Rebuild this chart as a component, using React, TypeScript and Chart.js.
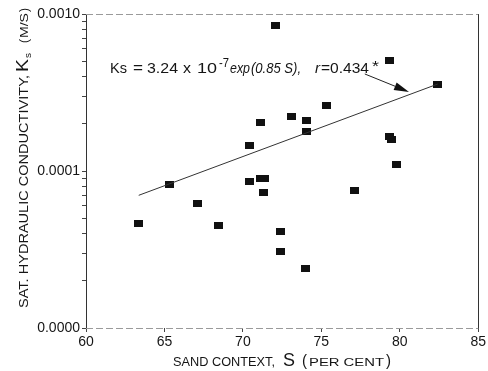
import React, { useEffect, useRef } from 'react';
import { Chart, registerables } from 'chart.js';

Chart.register(...registerables);

// ---- data ----
const sandContent = [63.36, 65.35, 67.13, 68.44, 70.41, 70.41, 71.1, 71.35, 71.29, 71.12, 72.06, 72.39, 72.37, 73.09, 74.06, 74.04, 74.02, 75.36, 77.13, 79.33, 79.33, 79.46, 79.8, 82.42];
const conductivity = [4.64e-5, 8.26e-5, 6.22e-5, 4.47e-5, 1.45e-4, 8.63e-5, 9.0e-5, 9.0e-5, 7.31e-5, 2.05e-4, 8.51e-4, 4.13e-5, 3.05e-5, 2.22e-4, 2.1e-4, 1.78e-4, 2.38e-5, 2.6e-4, 7.47e-5, 5.07e-4, 1.66e-4, 1.59e-4, 1.1e-4, 3.58e-4];
const fitSand = [63.36, 82.42];
const fitKs = [7.0e-5, 3.58e-4];
const arrowSand = [77.77, 80.59];
const arrowKs = [4.15e-4, 3.19e-4];
const xMin = 60;
const xMax = 85;
const xStep = 5;
const yMajorTicks = [1e-5, 1e-4, 1e-3];
const yMajorLabels = ['0.0000', '0.0001', '0.0010'];
const minorMultipliers = [1, 2, 3, 4, 5, 6, 7, 8, 9];

const FONT = "'Liberation Sans', Arial, Helvetica, sans-serif";
const INK = '#151515';

function drawFit(ctx: CanvasRenderingContext2D, text: string, x: number, y: number, font: string, width?: number) {
  ctx.font = font;
  if (width) {
    const w = ctx.measureText(text).width || 1;
    ctx.save();
    ctx.translate(x, y);
    ctx.scale(width / w, 1);
    ctx.fillText(text, 0, 0);
    ctx.restore();
  } else {
    ctx.fillText(text, x, y);
  }
}

const decorPlugin = {
  id: 'decor',
  afterDraw(chart: any) {
    const { ctx, chartArea: ca, scales } = chart;
    const xs = scales.x;
    const ys = scales.y;
    ctx.save();
    // frame
    ctx.lineWidth = 1;
    ctx.strokeStyle = '#333';
    ctx.beginPath();
    ctx.moveTo(Math.round(ca.left) + 0.5, ca.top);
    ctx.lineTo(Math.round(ca.left) + 0.5, ca.bottom);
    ctx.moveTo(Math.round(ca.right) + 0.5, ca.top);
    ctx.lineTo(Math.round(ca.right) + 0.5, ca.bottom);
    ctx.stroke();
    ctx.strokeStyle = '#9a9a9a';
    ctx.setLineDash([7, 3]);
    ctx.beginPath();
    ctx.moveTo(ca.left, Math.round(ca.top) + 0.5);
    ctx.lineTo(ca.right, Math.round(ca.top) + 0.5);
    ctx.moveTo(ca.left, Math.round(ca.bottom) + 0.5);
    ctx.lineTo(ca.right, Math.round(ca.bottom) + 0.5);
    ctx.stroke();
    ctx.setLineDash([]);

    // arrow
    const ax0 = xs.getPixelForValue(arrowSand[0]);
    const ay0 = ys.getPixelForValue(arrowKs[0]);
    const ax1 = xs.getPixelForValue(arrowSand[1]);
    const ay1 = ys.getPixelForValue(arrowKs[1]);
    const ang = Math.atan2(ay1 - ay0, ax1 - ax0);
    const hl = 15;
    const hw = 4;
    const bx = ax1 - hl * Math.cos(ang);
    const by = ay1 - hl * Math.sin(ang);
    ctx.strokeStyle = '#222';
    ctx.lineWidth = 1;
    ctx.beginPath();
    ctx.moveTo(ax0, ay0);
    ctx.lineTo(bx, by);
    ctx.stroke();
    ctx.fillStyle = '#111';
    ctx.beginPath();
    ctx.moveTo(ax1, ay1);
    ctx.lineTo(bx - hw * Math.sin(ang), by + hw * Math.cos(ang));
    ctx.lineTo(bx + hw * Math.sin(ang), by - hw * Math.cos(ang));
    ctx.closePath();
    ctx.fill();

    // equation
    ctx.fillStyle = INK;
    ctx.textBaseline = 'alphabetic';
    ctx.textAlign = 'left';
    const by0 = 72.5;
    const n15 = `15px ${FONT}`;
    const i15 = `italic 15px ${FONT}`;
    drawFit(ctx, 'Ks', 110, by0, n15, 17);
    drawFit(ctx, '=', 133, by0, n15, 10);
    drawFit(ctx, '3.24', 147, by0, n15, 31);
    drawFit(ctx, 'x', 183, by0, n15, 8);
    drawFit(ctx, '10', 197, by0, n15, 20);
    drawFit(ctx, '-7', 219, by0 - 6, `12px ${FONT}`, 10);
    drawFit(ctx, 'exp', 230, by0, i15, 20);
    drawFit(ctx, '(0.85 S),', 251, by0, i15, 50);
    drawFit(ctx, 'r', 315, by0, i15, 5);
    drawFit(ctx, '=0.434', 321, by0, n15, 48);
    drawFit(ctx, '*', 372, by0 - 2, n15, 7);

    // x title
    const tb = 366;
    drawFit(ctx, 'SAND CONTEXT,', 173, tb, `13px ${FONT}`, 102);
    drawFit(ctx, 'S', 283, tb, `19px ${FONT}`, 12);
    drawFit(ctx, '(', 302, tb, `16px ${FONT}`, 5);
    drawFit(ctx, 'PER CENT', 309, tb, `11px ${FONT}`, 75);
    drawFit(ctx, ')', 386, tb, `16px ${FONT}`, 5);

    // y title
    ctx.save();
    ctx.translate(27.5, 308);
    ctx.rotate(-Math.PI / 2);
    drawFit(ctx, 'SAT. HYDRAULIC CONDUCTIVITY,', 0, 0, `12.5px ${FONT}`, 233);
    drawFit(ctx, 'K', 236, 0, `17px ${FONT}`, 13);
    drawFit(ctx, 's', 250, 3, `9px ${FONT}`, 5);
    drawFit(ctx, '(', 265, 0, `13px ${FONT}`, 4);
    drawFit(ctx, 'M/S', 270, 0, `10px ${FONT}`, 25);
    drawFit(ctx, ')', 296, 0, `13px ${FONT}`, 4);
    ctx.restore();

    ctx.restore();
  },
};

export default function App() {
  const ref = useRef<HTMLCanvasElement | null>(null);

  useEffect(() => {
    document.body.style.margin = '0';
    const canvas = ref.current;
    if (!canvas) return;

    const marker = document.createElement('canvas');
    marker.width = 9;
    marker.height = 7;
    const mctx = marker.getContext('2d')!;
    mctx.fillStyle = '#111';
    mctx.fillRect(0, 0, 9, 7);

    const yTickValues: number[] = [];
    for (let i = 0; i < yMajorTicks.length - 1; i++) {
      for (const m of minorMultipliers) yTickValues.push(m * yMajorTicks[i]);
    }
    yTickValues.push(yMajorTicks[yMajorTicks.length - 1]);

    const chart = new Chart(canvas, {
      type: 'scatter',
      data: {
        datasets: [
          {
            type: 'line',
            data: fitSand.map((s, i) => ({ x: s, y: fitKs[i] })),
            borderColor: '#333',
            borderWidth: 1,
            pointRadius: 0,
            showLine: true,
            fill: false,
          } as any,
          {
            data: sandContent.map((s, i) => ({ x: s, y: conductivity[i] })),
            pointStyle: marker as any,
            pointRadius: 5,
            backgroundColor: '#111',
            borderColor: '#111',
          },
        ],
      },
      options: {
        animation: false,
        responsive: true,
        maintainAspectRatio: false,
        devicePixelRatio: 1,
        layout: { padding: { top: 14, right: 8, left: 0, bottom: 0 } },
        plugins: { legend: { display: false }, tooltip: { enabled: false } },
        scales: {
          x: {
            type: 'linear',
            min: xMin,
            max: xMax,
            border: { display: false },
            grid: { drawOnChartArea: false, drawTicks: true, tickLength: 4, color: '#444' },
            ticks: {
              stepSize: xStep,
              color: INK,
              padding: 2,
              font: { family: FONT, size: 14 },
              maxRotation: 0,
            },
            afterFit: (s: any) => { s.height = 43; },
          },
          y: {
            type: 'logarithmic',
            min: yMajorTicks[0],
            max: yMajorTicks[yMajorTicks.length - 1],
            border: { display: false },
            grid: { drawOnChartArea: false, drawTicks: true, tickLength: 4, color: '#444' },
            afterBuildTicks: (s: any) => {
              s.ticks = yTickValues.map((v) => ({ value: v }));
            },
            ticks: {
              autoSkip: false,
              color: INK,
              padding: 2,
              font: { family: FONT, size: 14 },
              callback: (v: any) => {
                const idx = yMajorTicks.findIndex((t) => Math.abs(t - Number(v)) / t < 1e-6);
                return idx >= 0 ? yMajorLabels[idx] : '';
              },
            },
            afterFit: (s: any) => { s.width = 86; },
          },
        },
      },
      plugins: [decorPlugin],
    });
    return () => chart.destroy();
  }, []);

  return (
    <div style={{ width: 488, height: 371, position: 'relative' }}>
      <canvas ref={ref} />
    </div>
  );
}
